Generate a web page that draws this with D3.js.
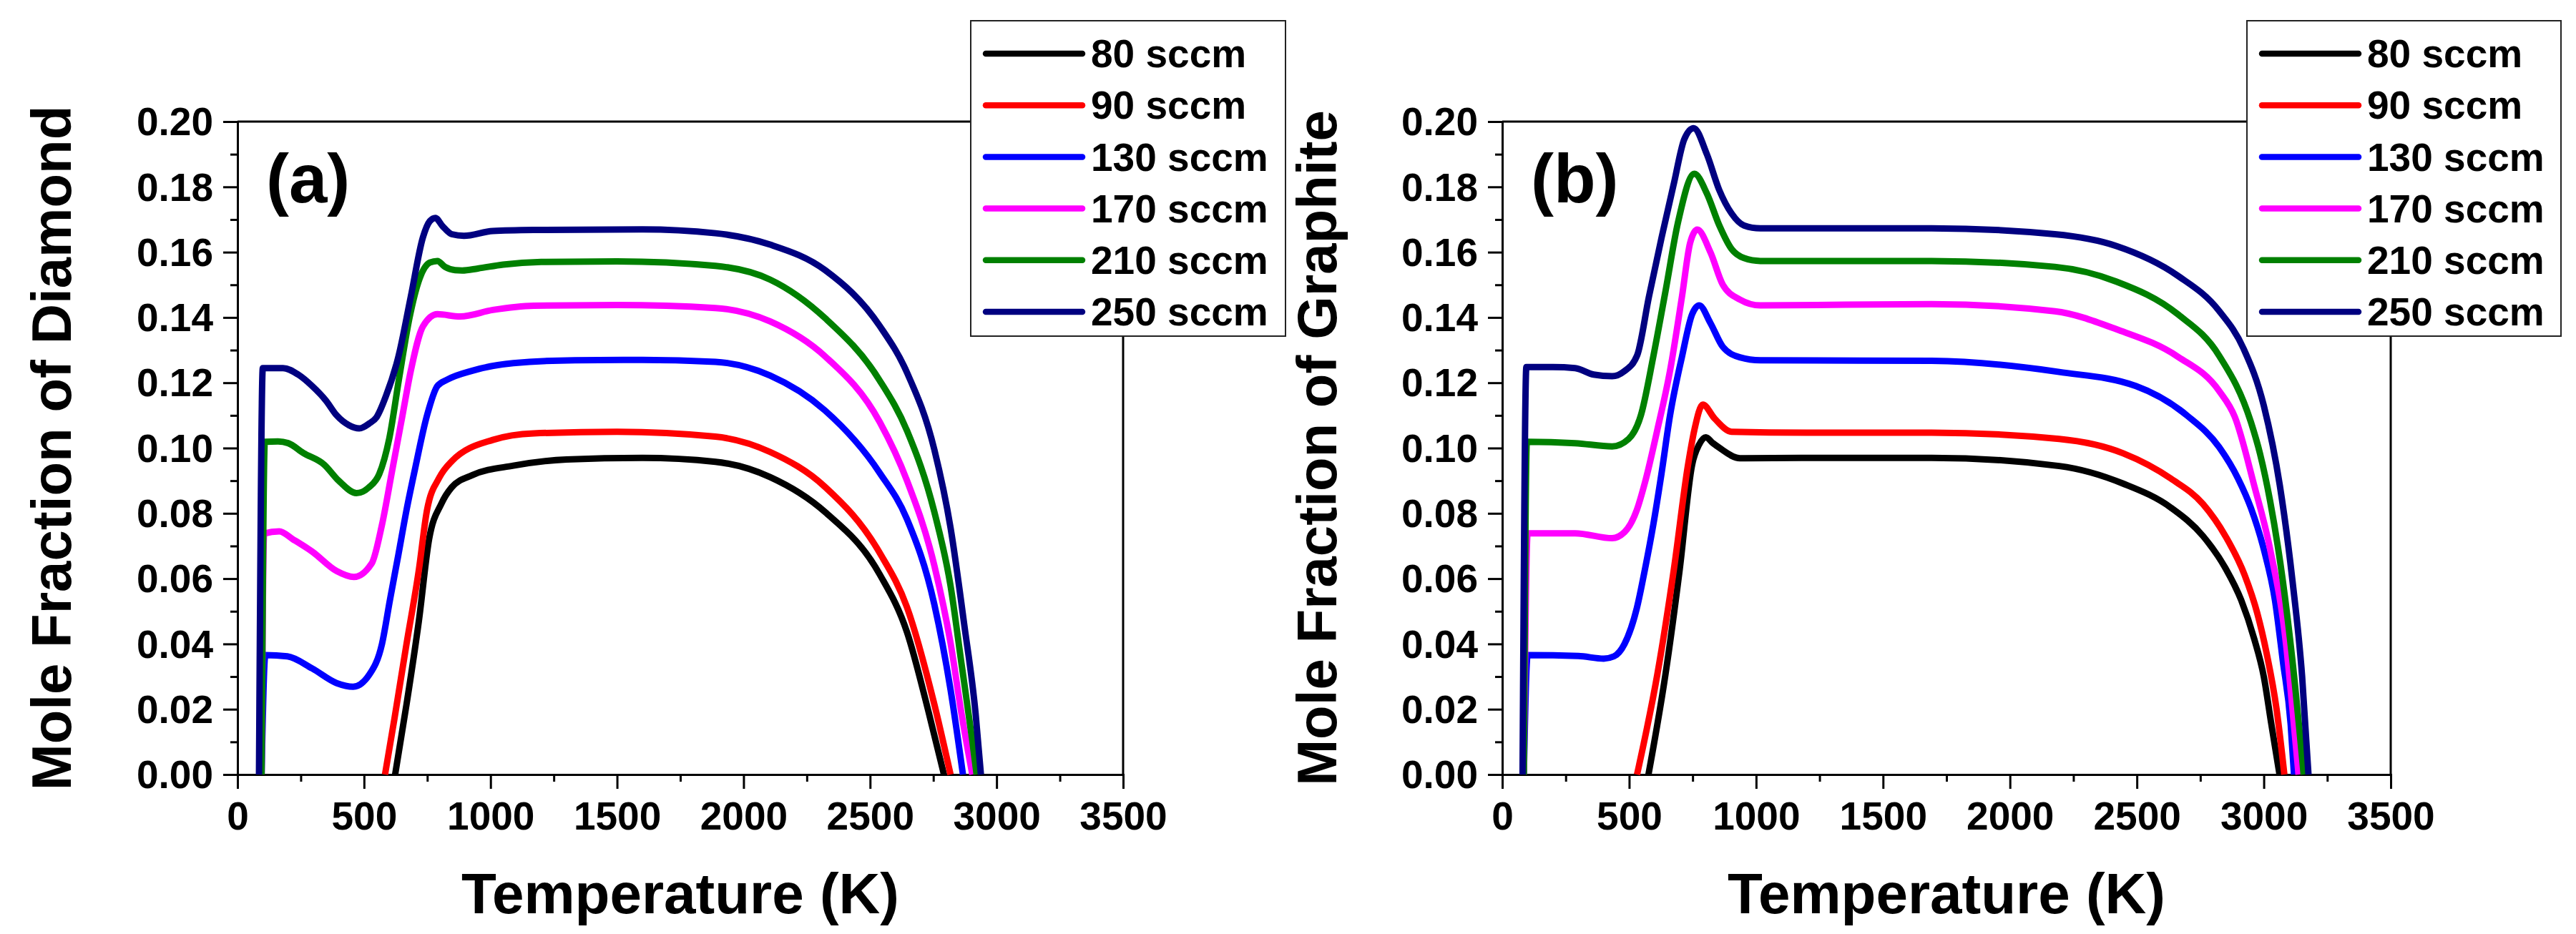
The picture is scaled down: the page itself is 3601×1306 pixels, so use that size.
<!DOCTYPE html>
<html>
<head>
<meta charset="utf-8">
<script src="https://cdn.jsdelivr.net/npm/d3@7"></script>
<style>
  body { margin: 0; background: #fff; }
  text { font-family: Arial, "Liberation Sans", sans-serif; font-weight: bold; fill: #000; }
</style>
</head>
<body>
<div id="app"></div>
<script>
// series names + colours (same for both panels)
const flows = ["80 sccm", "90 sccm", "130 sccm", "170 sccm", "210 sccm", "250 sccm"];
const colors = ["#000000", "#ff0000", "#0000ff", "#ff00ff", "#008000", "#000080"];

const xTicks = [0, 500, 1000, 1500, 2000, 2500, 3000, 3500];
const yTicks = [0, 0.02, 0.04, 0.06, 0.08, 0.10, 0.12, 0.14, 0.16, 0.18, 0.20];

// (a) diamond, [T (K), mole fraction]
const diamond80 = [[623,0],[668,0.0215],[717,0.0472],[757,0.072],[806,0.083],[847,0.088],[928,0.0917],[1090,0.0946],[1300,0.0965],[1600,0.097],[1889,0.0958],[2105,0.0911],[2322,0.0804],[2538,0.0613],[2646,0.0436],[2733,0.0186],[2792,0]];
const diamond90 = [[583,0],[620,0.017],[668,0.040],[717,0.0628],[749,0.081],[798,0.091],[847,0.096],[1009,0.1025],[1171,0.1045],[1500,0.105],[1889,0.1035],[2105,0.0988],[2322,0.0881],[2538,0.0679],[2646,0.0512],[2754,0.0215],[2818,0]];
const diamond130 = [[95,0],[110,0.0366],[197,0.0362],[295,0.0325],[392,0.028],[457,0.0269],[522,0.0307],[571,0.040],[603,0.0537],[636,0.0674],[668,0.081],[700,0.093],[749,0.110],[790,0.119],[830,0.121],[928,0.1237],[1090,0.126],[1334,0.1269],[1600,0.127],[1889,0.1264],[2105,0.1222],[2322,0.1115],[2538,0.0924],[2646,0.0782],[2754,0.0521],[2818,0.026],[2867,0]];
const diamond170 = [[95,0],[105,0.0738],[165,0.0745],[220,0.072],[295,0.0683],[392,0.0623],[460,0.0605],[530,0.0646],[571,0.0765],[611,0.093],[652,0.110],[685,0.1237],[733,0.1373],[790,0.141],[880,0.1403],[1009,0.1423],[1171,0.1436],[1500,0.1438],[1889,0.1429],[2105,0.1388],[2322,0.1281],[2538,0.108],[2646,0.090],[2754,0.064],[2818,0.0403],[2861,0.0188],[2904,0]];
const diamond210 = [[95,0],[108,0.1019],[160,0.102],[200,0.1015],[260,0.0985],[343,0.0949],[400,0.090],[470,0.0862],[520,0.088],[560,0.092],[600,0.103],[640,0.122],[680,0.140],[720,0.152],[760,0.1568],[790,0.1573],[820,0.1555],[860,0.1545],[888,0.1544],[950,0.155],[1050,0.1562],[1200,0.157],[1500,0.1572],[1889,0.1558],[2105,0.1516],[2322,0.1398],[2538,0.1207],[2646,0.1053],[2754,0.0804],[2818,0.0578],[2861,0.0341],[2904,0.0103],[2921,0]];
const diamond250 = [[85,0],[100,0.1245],[180,0.1245],[240,0.1225],[295,0.119],[350,0.1145],[392,0.110],[440,0.107],[481,0.106],[520,0.1075],[550,0.1095],[587,0.116],[636,0.128],[685,0.1464],[733,0.1646],[760,0.1695],[782,0.1705],[810,0.168],[847,0.1655],[895,0.165],[1009,0.1665],[1171,0.1668],[1600,0.167],[1889,0.1658],[2105,0.1623],[2322,0.1545],[2538,0.1374],[2646,0.1231],[2754,0.0995],[2818,0.0756],[2872,0.046],[2917,0.0187],[2938,0]];

// (b) graphite
const graphite80 = [[576,0],[643,0.0307],[699,0.0628],[748,0.0949],[775,0.101],[802,0.1033],[830,0.1015],[855,0.1001],[936,0.0969],[1200,0.097],[1691,0.097],[2194,0.0945],[2446,0.0891],[2635,0.0817],[2761,0.073],[2849,0.0632],[2911,0.0534],[2962,0.0416],[3000,0.030],[3030,0.0153],[3062,0]];
const graphite90 = [[531,0],[611,0.0307],[676,0.0628],[732,0.0949],[757,0.1056],[790,0.1133],[837,0.109],[903,0.105],[1200,0.1047],[1691,0.1047],[2194,0.1028],[2446,0.0984],[2635,0.0906],[2761,0.0828],[2849,0.073],[2924,0.0612],[2974,0.0495],[3012,0.0368],[3050,0.0202],[3081,0]];
const graphite130 = [[85,0],[100,0.0366],[300,0.0363],[400,0.0355],[440,0.0362],[481,0.0399],[530,0.0509],[562,0.0628],[595,0.0765],[627,0.092],[661,0.110],[708,0.128],[748,0.141],[776,0.1437],[820,0.1383],[869,0.131],[936,0.1278],[1017,0.1269],[1691,0.1267],[2194,0.1233],[2496,0.119],[2697,0.110],[2824,0.1003],[2899,0.0906],[2949,0.0817],[3000,0.069],[3044,0.0534],[3075,0.0348],[3106,0.0153],[3119,0]];
const graphite170 = [[85,0],[100,0.0739],[287,0.0739],[433,0.0724],[481,0.0742],[530,0.081],[562,0.0894],[611,0.1056],[661,0.1237],[708,0.1464],[740,0.1628],[768,0.1669],[820,0.160],[869,0.150],[936,0.1455],[1017,0.1437],[1691,0.1441],[2177,0.1419],[2419,0.1364],[2661,0.128],[2824,0.1175],[2886,0.1095],[2962,0.0886],[3025,0.069],[3088,0.0397],[3113,0.020],[3137,0]];
const graphite210 = [[85,0],[97,0.1019],[287,0.1015],[433,0.1005],[498,0.1028],[546,0.110],[595,0.128],[643,0.148],[692,0.169],[757,0.184],[806,0.178],[855,0.1682],[903,0.161],[952,0.1582],[1017,0.1573],[1691,0.1573],[2177,0.1555],[2419,0.151],[2661,0.141],[2824,0.1283],[2949,0.108],[2985,0.0983],[3025,0.0837],[3075,0.0593],[3113,0.0348],[3157,0]];
const graphite250 = [[80,0],[95,0.1248],[200,0.1248],[287,0.1245],[360,0.1225],[433,0.122],[480,0.1235],[531,0.1283],[578,0.1464],[628,0.1646],[676,0.181],[717,0.1946],[754,0.198],[806,0.190],[855,0.179],[903,0.1719],[952,0.1682],[1017,0.1673],[1691,0.1673],[2177,0.1655],[2419,0.1619],[2661,0.1528],[2824,0.142],[2920,0.1305],[3000,0.113],[3063,0.0886],[3113,0.0593],[3151,0.030],[3176,0]];

const diamondSeries = [diamond80, diamond90, diamond130, diamond170, diamond210, diamond250];
const graphiteSeries = [graphite80, graphite90, graphite130, graphite170, graphite210, graphite250];

const W = 3601, H = 1306;

const svg = d3.select('#app')
  .append('svg')
  .attr('width', W)
  .attr('height', H)
  .attr('viewBox', [0, 0, W, H]);

const panels = [
  { label: '(a)', ytitle: 'Mole Fraction of Diamond', series: diamondSeries,
    left: 332, right: 1570, top: 170, bottom: 1083, titleX: 99, legend: [1357, 29, 440, 441] },
  { label: '(b)', ytitle: 'Mole Fraction of Graphite', series: graphiteSeries,
    left: 2100, right: 3342, top: 170, bottom: 1083, titleX: 1868, legend: [3141, 29, 439, 441] }
];

panels.forEach(p => {
  const x = d3.scaleLinear().domain([0, 3500]).range([p.left, p.right]);
  const y = d3.scaleLinear().domain([0, 0.2]).range([p.bottom, p.top]);
  const g = svg.append('g');

  // minor ticks (outward, short)
  const xMinor = d3.range(250, 3500, 500);
  const yMinor = d3.range(0.01, 0.2, 0.02);

  const xAxis = g.append('g')
    .attr('transform', `translate(0,${p.bottom})`)
    .call(d3.axisBottom(x).tickValues(xTicks).tickSize(20).tickPadding(18).tickFormat(d3.format('d')));
  g.append('g')
    .attr('transform', `translate(0,${p.bottom})`)
    .call(d3.axisBottom(x).tickValues(xMinor).tickSize(10).tickFormat(''))
    .call(a => a.select('.domain').remove());

  const yAxis = g.append('g')
    .attr('transform', `translate(${p.left},0)`)
    .call(d3.axisLeft(y).tickValues(yTicks).tickSize(20).tickPadding(14).tickFormat(d3.format('.2f')));
  g.append('g')
    .attr('transform', `translate(${p.left},0)`)
    .call(d3.axisLeft(y).tickValues(yMinor).tickSize(10).tickFormat(''))
    .call(a => a.select('.domain').remove());

  g.selectAll('.domain').attr('stroke', '#000').attr('stroke-width', 3);
  g.selectAll('.tick line').attr('stroke', '#000').attr('stroke-width', 3);
  xAxis.selectAll('.tick text').attr('font-size', 55).attr('dy', '0.71em')
    .style('font-family', 'Arial, "Liberation Sans", sans-serif').style('font-weight', 'bold');
  yAxis.selectAll('.tick text').attr('font-size', 55).attr('dy', '0.34em')
    .style('font-family', 'Arial, "Liberation Sans", sans-serif').style('font-weight', 'bold');

  // top and right frame lines
  g.append('line').attr('x1', p.left).attr('x2', p.right).attr('y1', p.top).attr('y2', p.top)
    .attr('stroke', '#000').attr('stroke-width', 3);
  g.append('line').attr('x1', p.right).attr('x2', p.right).attr('y1', p.top).attr('y2', p.bottom)
    .attr('stroke', '#000').attr('stroke-width', 3);

  // curves - monotone so the near-vertical starts don't swing backwards
  const line = d3.line()
    .x(d => x(d[0]))
    .y(d => y(d[1]))
    .curve(d3.curveMonotoneX);

  g.append('g')
    .selectAll('path')
    .data(p.series)
    .join('path')
    .attr('d', line)
    .attr('fill', 'none')
    .attr('stroke', (d, i) => colors[i])
    .attr('stroke-width', 9)
    .attr('stroke-linejoin', 'round');

  // panel label
  g.append('text')
    .attr('x', p.left + 40)
    .attr('y', 283)
    .attr('font-size', 96)
    .text(p.label);

  // axis titles
  g.append('text')
    .attr('transform', `translate(${p.titleX},${(p.top + p.bottom) / 2}) rotate(-90)`)
    .attr('text-anchor', 'middle')
    .attr('font-size', 78)
    .text(p.ytitle);

  g.append('text')
    .attr('x', (p.left + p.right) / 2)
    .attr('y', 1277)
    .attr('text-anchor', 'middle')
    .attr('font-size', 80)
    .text('Temperature (K)');

  // legend, white box over the top-right corner
  const [lx, ly, lw, lh] = p.legend;
  const leg = g.append('g');
  leg.append('rect')
    .attr('x', lx).attr('y', ly).attr('width', lw).attr('height', lh)
    .attr('fill', '#fff').attr('stroke', '#222').attr('stroke-width', 2);
  const rows = leg.selectAll('g.row')
    .data(flows)
    .join('g')
    .attr('class', 'row')
    .attr('transform', (d, i) => `translate(${lx},${ly + 46 + i * 72.2})`);
  rows.append('line')
    .attr('x1', 21).attr('x2', 156)
    .attr('stroke', (d, i) => colors[i])
    .attr('stroke-width', 8.5)
    .attr('stroke-linecap', 'round');
  rows.append('text')
    .attr('x', 168)
    .attr('dy', '0.35em')
    .attr('font-size', 55)
    .text(d => d);
});
</script>
</body>
</html>
